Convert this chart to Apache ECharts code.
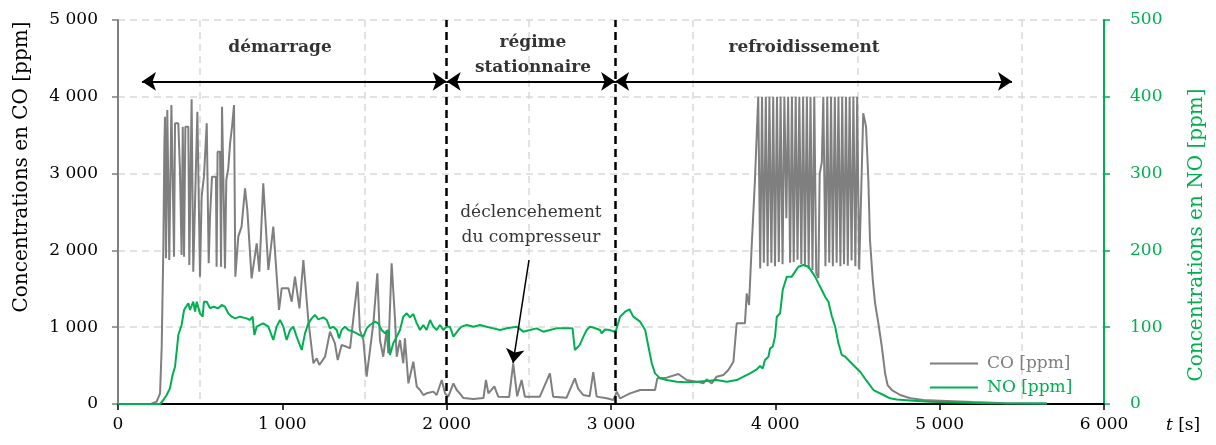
<!DOCTYPE html>
<html>
<head>
<meta charset="utf-8">
<script src="https://cdn.jsdelivr.net/npm/echarts@6/dist/echarts.min.js"></script>
<style>
html, body { margin: 0; padding: 0; background: #fff; }
#chart { width: 1216px; height: 445px; }
</style>
</head>
<body>
<div id="chart"></div>
<script>
// CO [ppm] over time t [s]
var coPoints = [
    [0,0],[200,0],[235,30],[256,139],[266,746],[276,2048],[282,3350],[286,3741],[292,1897],[300,3828],
    [308,3837],[312,1875],[325,3893],[337,3893],[341,1918],[347,3654],[367,3654],[377,3047],[387,1940],
    [394,3611],[402,1918],[410,3611],[428,3611],[434,1810],[448,3967],[458,1723],[483,3806],[491,3819],
    [499,1658],[509,2699],[523,2960],[540,3654],[552,1832],[560,2439],[572,2960],[596,2960],[600,1788],
    [606,3285],[621,3285],[627,1788],[633,3871],[645,3871],[651,1766],[659,2916],[671,3068],[682,3394],
    [694,3611],[706,3893],[714,1658],[732,2179],[752,2309],[773,2808],[787,2526],[813,1636],[844,2092],
    [860,1723],[884,2873],[915,1745],[945,2309],[980,1224],[996,1506],[1037,1506],[1057,1332],[1077,1658],
    [1104,1246],[1128,1875],[1158,1094],[1189,530],[1209,595],[1225,508],[1260,616],[1290,942],[1300,942],
    [1320,790],[1337,573],[1361,768],[1391,746],[1412,725],[1442,1300],[1458,1593],[1472,963],[1493,833],
    [1513,356],[1523,356],[1554,1050],[1578,1701],[1594,833],[1614,616],[1635,963],[1645,660],[1665,1832],
    [1686,1094],[1696,616],[1716,833],[1736,530],[1746,855],[1767,269],[1797,551],[1818,226],[1838,182],
    [1858,117],[1878,139],[1919,161],[1939,117],[1970,312],[1990,139],[2010,95],[2041,269],[2061,182],
    [2081,135],[2102,78],[2163,65],[2224,78],[2239,313],[2254,139],[2263,117],[2290,230],[2314,95],
    [2380,90],[2405,529],[2429,100],[2456,313],[2476,95],[2567,95],[2628,399],[2648,95],[2729,80],
    [2780,334],[2800,200],[2832,117],[2870,100],[2892,415],[2913,96],[2974,74],[3015,52],[3035,161],
    [3055,74],[3116,139],[3177,182],[3268,182],[3282,334],[3339,343],[3410,391],[3461,312],[3522,291],
    [3562,269],[3582,321],[3613,269],[3643,356],[3684,378],[3714,443],[3745,551],[3765,1051],[3785,1050],
    [3815,1050],[3826,1441],[3840,1289],[3856,2048],[3876,2916],
    [3896,4000],[3908,1766],[3919,4000],[3930,1840],[3942,4000],[3953,1793],[3964,4000],[3976,1840],
    [3987,4000],[3998,1793],[4010,4000],[4021,1850],[4032,4000],[4044,1820],[4055,4000],[4067,2420],
    [4078,4000],[4090,1840],[4101,4000],[4112,1850],[4124,4000],[4135,1880],[4146,4000],[4158,1820],
    [4169,4000],[4180,1800],[4192,4000],[4203,1760],[4214,4000],[4226,1745],[4237,4000],[4249,1700],
    [4262,1640],[4270,3000],[4283,3150],
    [4292,4000],[4305,1793],[4316,4000],[4328,1840],[4339,4000],[4350,1793],[4362,4000],[4373,1840],
    [4384,4000],[4396,1793],[4407,4000],[4418,1820],[4430,4000],[4441,1800],[4452,4000],[4464,1870],
    [4475,4000],[4487,1793],[4498,4000],[4510,1750],
    [4535,3785],[4552,3611],[4566,2916],[4576,2135],[4593,1614],[4607,1311],[4627,1050],[4648,746],
    [4668,399],[4683,247],[4709,182],[4760,117],[4821,74],[4902,52],[5003,43],[5200,25],[5400,10],[5650,5]
];

// NO [ppm] over time t [s]
var noPoints = [
    [0,0],[256,0],[276,5.2],[296,11.7],[316,20.4],[332,37.8],[347,48.6],[357,50.3],[360,74.6],[367,89.8],
    [377,89.8],[387,102.9],[398,102.9],[402,122.4],[414,126.7],[428,131.1],[438,122.4],[458,133.2],
    [469,120.2],[479,133.2],[489,131.1],[499,118.0],[515,113.7],[523,133.2],[540,133.2],[550,128.9],
    [560,124.6],[580,126.7],[610,124.6],[631,128.9],[651,126.7],[671,118.0],[692,113.7],[712,111.5],
    [742,113.7],[783,111.5],[803,109.4],[819,113.7],[830,89.8],[844,100.7],[864,102.9],[884,105.0],
    [915,100.7],[945,83.3],[965,100.7],[986,109.4],[1006,100.7],[1026,83.3],[1047,96.3],[1067,100.7],
    [1087,87.7],[1118,70.3],[1138,92.0],[1158,105.0],[1179,111.5],[1199,115.9],[1219,110.2],[1250,112.8],
    [1270,109.4],[1290,98.5],[1310,100.7],[1331,96.3],[1345,85.5],[1361,96.3],[1381,100.7],[1402,96.3],
    [1432,94.2],[1472,89.8],[1493,87.7],[1513,98.5],[1533,102.9],[1564,107.2],[1584,105.0],[1604,96.3],
    [1625,92.0],[1645,96.3],[1655,63.8],[1675,79.0],[1696,87.7],[1716,96.3],[1736,113.7],[1757,118.1],
    [1777,112.8],[1797,117.2],[1818,105.0],[1838,96.3],[1858,102.9],[1878,96.3],[1899,109.4],[1919,100.7],
    [1939,96.3],[1959,102.9],[1980,96.3],[2000,100.7],[2020,100.7],[2041,87.7],[2071,96.3],[2091,100.7],
    [2122,102.9],[2163,100.7],[2203,102.9],[2243,100.7],[2284,98.5],[2325,96.3],[2365,98.5],[2426,100.7],
    [2466,94.2],[2507,96.3],[2547,98.5],[2588,94.2],[2628,96.3],[2669,98.5],[2729,98.5],[2766,98.5],
    [2780,70.3],[2810,77],[2832,87.7],[2852,96.3],[2872,100.7],[2892,99.6],[2933,96.3],[2943,92.0],
    [2963,97],[2994,96.3],[3015,94.2],[3031,96],[3055,113.7],[3086,120.2],[3112,123.3],[3136,113.7],
    [3177,107.2],[3208,96.3],[3228,74.6],[3248,53.0],[3268,39.9],[3299,33.4],[3339,31.2],[3400,29.1],
    [3461,28.3],[3522,29.1],[3582,30],[3643,31.2],[3704,29.1],[3765,31.2],[3806,35.6],[3846,39.9],
    [3887,45.1],[3907,49.5],[3923,46.2],[3937,57.3],[3958,61.6],[3968,72.5],[3984,74.6],[3998,87.7],
    [4009,113.7],[4029,118.1],[4045,148.4],[4070,165.8],[4100,165.8],[4120,172.3],[4140,178.8],[4171,180.9],
    [4201,178.8],[4222,172.3],[4242,165.8],[4262,157.1],[4283,148.4],[4303,139.7],[4323,133.2],[4343,115],
    [4364,100.7],[4384,79.0],[4404,64],[4425,61.6],[4455,55.1],[4485,48.6],[4516,42],[4556,30],
    [4597,18.2],[4658,11.7],[4698,7.4],[4739,6],[4841,4.3],[4942,3.0],[5100,2],[5300,1],[5653,0.5]
];

// phases: arrow extents and separators
var phaseBounds = [146, 2000, 3025, 5440];
var arrowLevel = 4200;
var phaseLabels = [
    { name: 'démarrage', value: [986, 4635] },
    { name: 'régime\nstationnaire', value: [2525, 4540] },
    { name: 'refroidissement', value: [4175, 4635] }
];
var noteLabel = { name: 'déclencehement\ndu compresseur', value: [2513, 2324] };
var noteArrow = [[2501, 1875], [2404, 534]];

var FONT = "'DejaVu Serif', serif";
var GREEN = '#00b050';
var GREY = '#7f7f7f';

function spaced(v) {
    if (v < 1000) return String(v);
    return Math.floor(v / 1000) + ' ' + ('000' + (v % 1000)).slice(-3);
}

var dom = document.getElementById('chart');
var chart = echarts.init(dom);

var arrowLines = [];
for (var i = 0; i < phaseBounds.length - 1; i++) {
    arrowLines.push([
        { coord: [phaseBounds[i], arrowLevel] },
        { coord: [phaseBounds[i + 1], arrowLevel] }
    ]);
}

var option = {
    animation: false,
    grid: { left: 118, right: 112, top: 20, bottom: 41, containLabel: false, outerBoundsMode: 'none' },
    legend: {
        orient: 'vertical',
        left: 925,
        top: 350,
        itemWidth: 48,
        itemHeight: 2,
        itemGap: 7,
        textStyle: { fontFamily: FONT, fontSize: 17, padding: [0, 0, 0, 4] },
        data: [
            { name: 'CO [ppm]', icon: 'rect', textStyle: { color: GREY } },
            { name: 'NO [ppm]', icon: 'rect', textStyle: { color: GREEN } }
        ]
    },
    xAxis: {
        type: 'value',
        min: 0,
        max: 6000,
        interval: 1000,
        axisLine: { lineStyle: { color: '#000', width: 2 } },
        axisTick: { show: true, length: 6, lineStyle: { color: '#000', width: 1.5 } },
        axisLabel: { color: '#000', fontFamily: FONT, fontSize: 17, margin: 12, formatter: spaced },
        splitLine: { show: false },
        minorTick: { show: true, splitNumber: 2, length: 0 },
        minorSplitLine: { show: true, lineStyle: { color: '#d9d9d9', width: 1.5, type: [7, 5] } }
    },
    yAxis: [{
        type: 'value',
        min: 0,
        max: 5000,
        interval: 1000,
        name: 'Concentrations en CO [ppm]',
        nameLocation: 'middle',
        nameRotate: 90,
        nameGap: 86,
        nameTextStyle: { color: '#000', fontFamily: FONT, fontSize: 20, padding: [0, 0, 0, 90] },
        axisLine: { show: true, lineStyle: { color: GREY, width: 2 } },
        axisTick: { show: true, length: 6, lineStyle: { color: GREY, width: 1.5 } },
        axisLabel: { color: '#000', fontFamily: FONT, fontSize: 17, margin: 20, formatter: spaced },
        splitLine: { lineStyle: { color: '#d9d9d9', width: 1.5, type: [7, 5] } }
    }, {
        type: 'value',
        min: 0,
        max: 500,
        interval: 100,
        position: 'right',
        name: 'Concentrations en NO [ppm]',
        nameLocation: 'middle',
        nameRotate: 90,
        nameGap: 83,
        nameTextStyle: { color: GREEN, fontFamily: FONT, fontSize: 20, padding: [0, 46, 0, 0] },
        axisLine: { show: true, lineStyle: { color: GREEN, width: 2 } },
        axisTick: { show: true, length: 6, lineStyle: { color: GREEN, width: 1.5 } },
        axisLabel: { color: GREEN, fontFamily: FONT, fontSize: 17, margin: 26 },
        splitLine: { show: false }
    }],
    series: [{
        name: 'CO [ppm]',
        type: 'line',
        yAxisIndex: 0,
        symbol: 'none',
        data: coPoints,
        lineStyle: { color: GREY, width: 2 },
        itemStyle: { color: GREY }
    }, {
        name: 'NO [ppm]',
        type: 'line',
        yAxisIndex: 1,
        symbol: 'none',
        data: noPoints,
        lineStyle: { color: GREEN, width: 2 },
        itemStyle: { color: GREEN }
    }, {
        name: 'notes',
        type: 'scatter',
        yAxisIndex: 0,
        symbolSize: 0.1,
        itemStyle: { color: 'rgba(0,0,0,0)' },
        silent: true,
        z: 5,
        data: phaseLabels.map(function (p) {
            return { name: p.name, value: p.value, label: { fontWeight: 'bold' } };
        }).concat([{ name: noteLabel.name, value: noteLabel.value, label: { fontWeight: 'normal' } }]),
        label: {
            show: true,
            position: 'inside',
            formatter: '{b}',
            color: '#000',
            fontFamily: FONT,
            fontSize: 17,
            lineHeight: 25,
            align: 'center'
        },
        markLine: {
            silent: true,
            animation: false,
            label: { show: false },
            symbol: ['arrow', 'arrow'],
            symbolSize: 14,
            lineStyle: { color: '#000', width: 2, type: 'solid' },
            data: arrowLines
        }
    }, {
        name: 'separators',
        type: 'scatter',
        yAxisIndex: 0,
        data: [],
        silent: true,
        z: 4,
        markLine: {
            silent: true,
            animation: false,
            label: { show: false },
            symbol: 'none',
            lineStyle: { color: '#000', width: 2.5, type: [8, 5] },
            data: [{ xAxis: phaseBounds[1] }, { xAxis: phaseBounds[2] }]
        }
    }, {
        name: 'pointer',
        type: 'scatter',
        yAxisIndex: 0,
        data: [],
        silent: true,
        z: 6,
        markLine: {
            silent: true,
            animation: false,
            label: { show: false },
            symbol: ['none', 'arrow'],
            symbolSize: 14,
            lineStyle: { color: '#000', width: 1.5, type: 'solid' },
            data: [[{ coord: noteArrow[0] }, { coord: noteArrow[1] }]]
        }
    }],
    graphic: [{
        type: 'text',
        left: 1166,
        top: 417,
        style: {
            text: '{i|t} [s]',
            fill: '#000',
            font: '17px ' + FONT,
            rich: { i: { fontStyle: 'italic', fontFamily: FONT, fontSize: 17 } }
        }
    }]
};

chart.setOption(option);

window.addEventListener('resize', function () {
    chart.resize();
});
</script>
</body>
</html>
